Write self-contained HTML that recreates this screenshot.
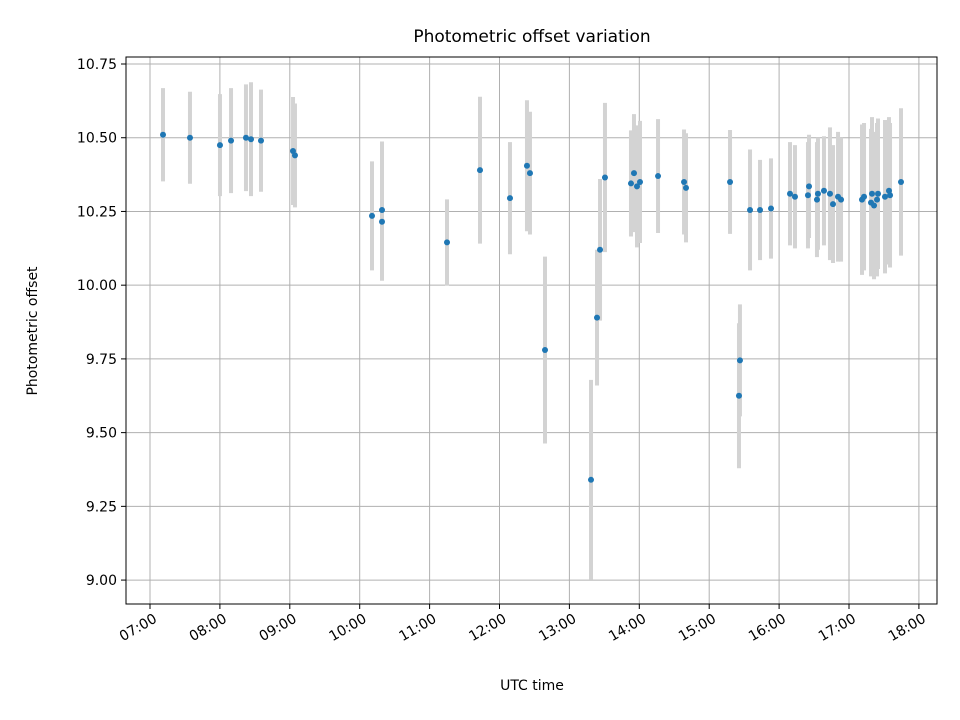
<!DOCTYPE html>
<html><head><meta charset="utf-8"><style>
body{margin:0;background:#fff}
svg{display:block;font-family:"DejaVu Sans","Liberation Sans",sans-serif}
</style></head><body>
<svg id="chart" width="960" height="720" xmlns="http://www.w3.org/2000/svg">
<rect width="960" height="720" fill="#fff"/>
<g id="grid"></g>
<g id="bars"></g>
<g id="pts"></g>
<rect x="126" y="57" width="811" height="547" fill="none" stroke="#000" stroke-width="1"/>
<g id="axes"></g>
<text x="532" y="42" text-anchor="middle" font-size="17">Photometric offset variation</text>
<text x="532" y="690" text-anchor="middle" font-size="14">UTC time</text>
<text transform="translate(37,331) rotate(-90)" text-anchor="middle" font-size="14">Photometric offset</text>
</svg>
<script>
const times=[7.186,7.572,8.001,8.159,8.373,8.445,8.588,9.046,9.074,10.176,10.319,10.319,11.249,11.721,12.150,12.393,12.436,12.651,13.309,13.395,13.438,13.509,13.881,13.924,13.967,14.010,14.268,14.640,14.668,15.298,15.426,15.440,15.584,15.727,15.884,16.156,16.227,16.428,16.413,16.542,16.556,16.642,16.728,16.771,16.843,16.886,17.186,17.215,17.329,17.315,17.358,17.415,17.401,17.515,17.572,17.587,17.744];
const values=[10.51,10.50,10.475,10.49,10.50,10.495,10.49,10.455,10.44,10.235,10.255,10.215,10.145,10.39,10.295,10.405,10.38,9.78,9.34,9.89,10.12,10.365,10.345,10.38,10.335,10.35,10.37,10.35,10.33,10.35,9.625,9.745,10.255,10.255,10.26,10.31,10.30,10.335,10.305,10.29,10.31,10.32,10.31,10.275,10.30,10.29,10.29,10.30,10.31,10.28,10.27,10.31,10.29,10.30,10.32,10.305,10.35];
const errors=[0.158,0.156,0.173,0.178,0.181,0.193,0.173,0.183,0.176,0.185,0.232,0.2,0.146,0.249,0.19,0.222,0.208,0.317,0.339,0.23,0.24,0.253,0.18,0.2,0.207,0.207,0.193,0.178,0.185,0.176,0.246,0.19,0.205,0.17,0.17,0.175,0.175,0.175,0.18,0.195,0.19,0.185,0.225,0.2,0.22,0.21,0.255,0.25,0.26,0.25,0.25,0.255,0.26,0.26,0.25,0.245,0.25];
const yTicks=[9.00,9.25,9.50,9.75,10.00,10.25,10.50,10.75];
const xTicks=[7,8,9,10,11,12,13,14,15,16,17,18];
const NS="http://www.w3.org/2000/svg";
function xs(t){return 150+(t-7)*69.9;}
function ys(v){return 64+(10.75-v)*294.9;}
function mk(tag,attrs,parent){const e=document.createElementNS(NS,tag);for(const k in attrs)e.setAttribute(k,attrs[k]);document.getElementById(parent).appendChild(e);return e;}
yTicks.forEach(v=>{
  const y=ys(v);
  const g=mk('line',{x1:126,x2:937,y1:y,y2:y,stroke:'#b0b0b0','stroke-width':1},'grid');
  
  
  const t=mk('line',{x1:121,x2:126,y1:y,y2:y,stroke:'#000'},'axes');
  
  
  const l=mk('text',{x:117,y:y+5,'text-anchor':'end','font-size':14},'axes');
  l.textContent=v.toFixed(2);
  
  
});
xTicks.forEach(h=>{
  const x=xs(h);
  const g=mk('line',{x1:x,x2:x,y1:57,y2:604,stroke:'#b0b0b0','stroke-width':1},'grid');
  
  
  const t=mk('line',{x1:x,x2:x,y1:604,y2:609,stroke:'#000'},'axes');
  
  
  const l=mk('text',{transform:`translate(${x+3},${613}) rotate(-30)`,'text-anchor':'end','dominant-baseline':'hanging','font-size':14},'axes');
  l.textContent=(h<10?'0':'')+h+':00';
  
  
});
times.forEach((t,i)=>{
  const b=mk('line',{x1:xs(t),x2:xs(t),y1:ys(values[i]+errors[i]),y2:ys(values[i]-errors[i]),stroke:'#d3d3d3','stroke-width':4},'bars');
  
  
});
times.forEach((t,i)=>{
  const c=mk('circle',{cx:xs(t),cy:ys(values[i]),r:3,fill:'#1f77b4'},'pts');
  
  
});
</script>
</body></html>
